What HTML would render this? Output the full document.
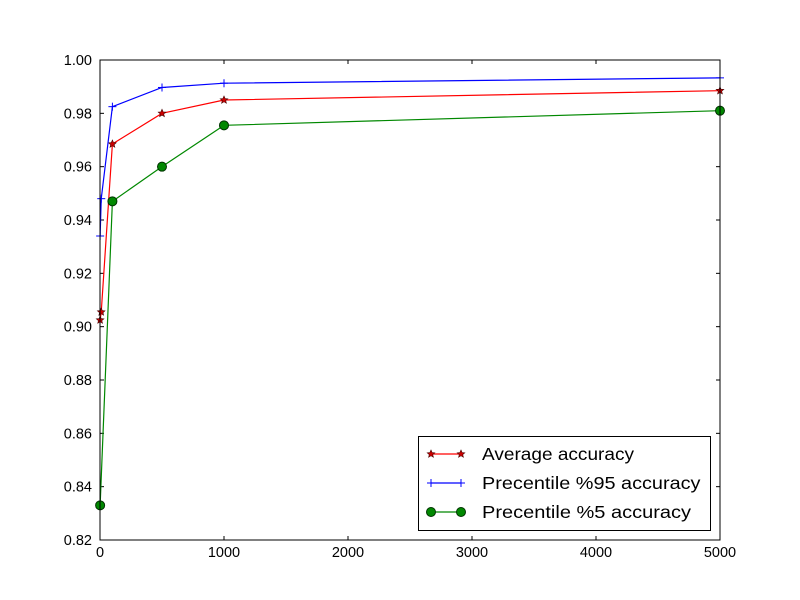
<!DOCTYPE html>
<html><head><meta charset="utf-8"><style>body{margin:0;background:#fff}svg{display:block;font-family:"Liberation Sans",sans-serif}</style></head>
<body>
<svg id="chart" width="800" height="600">
<rect width="800" height="600" fill="#fff"/>
<g id="grid"></g>
<g id="series"></g>
<rect x="100" y="60" width="620" height="480" fill="none" stroke="#000"/>
<g id="legend">
<rect x="418.5" y="436.5" width="292" height="94" fill="#fff" stroke="#000"/>
</g>
</svg>
<script>
const xAvg=[1,10,100,500,1000,5000];
const yAvg=[0.9025,0.9055,0.9685,0.980,0.985,0.9885];
const xP95=[1,10,100,500,1000,5000];
const yP95=[0.934,0.948,0.9825,0.9897,0.9913,0.9933];
const xP5=[1,100,500,1000,5000];
const yP5=[0.833,0.947,0.960,0.9755,0.981];
const xTicks=[0,1000,2000,3000,4000,5000];
const yTicks=[0.82,0.84,0.86,0.88,0.90,0.92,0.94,0.96,0.98,1.00];
const legendLabels=["Average accuracy","Precentile %95 accuracy","Precentile %5 accuracy"];
const NS="http://www.w3.org/2000/svg";
const X=v=>100+v/5000*620, Y=v=>540-(v-0.82)/0.18*480;
function mk(t,a,p){const e=document.createElementNS(NS,t);for(const k in a)e.setAttribute(k,a[k]);p.appendChild(e);return e;}
const g=document.getElementById('grid');
xTicks.forEach(t=>{const x=X(t);
mk('line',{x1:x,x2:x,y1:540,y2:536,stroke:'#000'},g);
mk('line',{x1:x,x2:x,y1:60,y2:64,stroke:'#000'},g);
const tx=mk('text',{x:x,y:557,'text-anchor':'middle','font-size':14.5},g);tx.textContent=t;

});
yTicks.forEach(t=>{const y=Y(t);
mk('line',{x1:100,x2:104,y1:y,y2:y,stroke:'#000'},g);
mk('line',{x1:716,x2:720,y1:y,y2:y,stroke:'#000'},g);
const tx=mk('text',{x:92,y:y+5,'text-anchor':'end','font-size':14.5},g);tx.textContent=t.toFixed(2);

});
const s=document.getElementById('series');
function star(cx,cy,r,p){let pts=[];for(let i=0;i<10;i++){const rr=i%2?r*0.45:r,a=-Math.PI/2+i*Math.PI/5;pts.push((cx+rr*Math.cos(a)).toFixed(1)+','+(cy+rr*Math.sin(a)).toFixed(1));}
return mk('polygon',{points:pts.join(' '),fill:'#c00',stroke:'#400','stroke-width':0.6},p);}
function marker(kind,cx,cy,p){
if(kind==='star')return star(cx,cy,4,p);
if(kind==='plus'){const gg=mk('g',{},p);mk('line',{x1:cx-4,x2:cx+4,y1:cy,y2:cy,stroke:'#00f'},gg);mk('line',{x1:cx,x2:cx,y1:cy-4,y2:cy+4,stroke:'#00f'},gg);return gg;}
return mk('circle',{cx:cx,cy:cy,r:4.5,fill:'#080',stroke:'#030'},p);}
function series(xs,ys,color,kind,name){
const gg=mk('g',{},s);


mk('polyline',{points:xs.map((x,i)=>X(x)+','+Y(ys[i])).join(' '),fill:'none',stroke:color,'stroke-width':1.2},gg);
xs.forEach((x,i)=>{const m=marker(kind,X(x),Y(ys[i]),gg);

});}
series(xAvg,yAvg,'#f00','star','average-series');
series(xP95,yP95,'#00f','plus','p95-series');
series(xP5,yP5,'#080','circle','p5-series');
const L=document.getElementById('legend');
const cols=['#f00','#00f','#080'],kinds=['star','plus','circle'];
legendLabels.forEach((lab,i)=>{const y=454+i*29;
const gg=mk('g',{},L);


mk('line',{x1:431,x2:461,y1:y,y2:y,stroke:cols[i],'stroke-width':1.2},gg);
marker(kinds[i],431,y,gg);marker(kinds[i],461,y,gg);
const t=mk('text',{x:482,y:y+6,'font-size':17.5,textLength:lab.length*9.5,lengthAdjust:'spacingAndGlyphs'},gg);t.textContent=lab;});
</script>
</body></html>
